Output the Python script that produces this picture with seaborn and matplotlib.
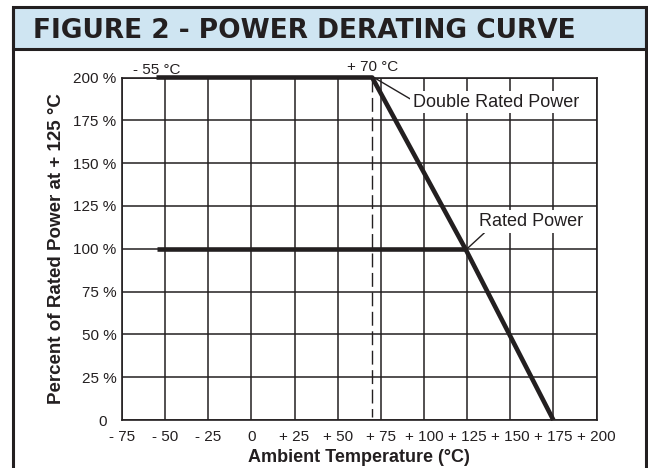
"""Power derating curve (Figure 2)."""
import numpy as np
import pandas as pd
import matplotlib
matplotlib.use('Agg')
import matplotlib.pyplot as plt
from matplotlib.patches import Rectangle
from matplotlib.lines import Line2D
import seaborn as sns

# data
temp_double = [-55, 70, 124, 175]
pct_double = [200, 200, 100, 0]
temp_rated = [-55, 124]
pct_rated = [100, 100]
x_ticks = [-75, -50, -25, 0, 25, 50, 75, 100, 125, 150, 175, 200]
x_labels = ['- 75', '- 50', '- 25', '0', '+ 25', '+ 50', '+ 75', '+ 100',
            '+ 125', '+ 150', '+ 175', '+ 200']
y_ticks = [0, 25, 50, 75, 100, 125, 150, 175, 200]
y_labels = ['0  ', '25 %', '50 %', '75 %', '100 %', '125 %', '150 %',
            '175 %', '200 %']
knee_temp = 70

sns.set_theme(style='white')
plt.rcParams['font.family'] = ['Liberation Sans', 'DejaVu Sans']

INK = '#231f20'
W, H = 648, 468

fig = plt.figure(figsize=(W / 100, H / 100), dpi=100)
ax = fig.add_axes([122 / W, 1 - 420 / H, (596.5 - 122) / W, (420 - 77.5) / H])

# panel frame and title band
fig.add_artist(Rectangle((12.5 / W, 1 - 49 / H), (646 - 12.5) / W, 41.5 / H,
                         transform=fig.transFigure, facecolor='#cfe5f2',
                         edgecolor=INK, lw=2.2))
for xf in (12.5 / W, 646 / W):
    fig.add_artist(Line2D([xf, xf], [0, 1 - 7.5 / H], transform=fig.transFigure,
                          color=INK, lw=2.2))
fig.text(33 / W, 1 - 38 / H, 'FIGURE 2 - POWER DERATING CURVE',
         family='DejaVu Sans', weight='bold', fontsize=19, color=INK,
         ha='left', va='baseline')

# curves
sns.lineplot(x=temp_double, y=pct_double, ax=ax, sort=False, estimator=None,
             color=INK, lw=3.3, solid_capstyle='butt', zorder=4, clip_on=False)
sns.lineplot(x=temp_rated, y=pct_rated, ax=ax, sort=False, estimator=None,
             color=INK, lw=3.3, solid_capstyle='butt', zorder=4, clip_on=False)
ax.plot([knee_temp, knee_temp], [200, 2], color=INK, lw=1.0,
        dashes=(10, 4), zorder=3)

ax.set_xlim(-75, 200)
ax.set_ylim(0, 200)
ax.set_xticks(x_ticks)
ax.set_xticklabels(x_labels)
ax.set_yticks(y_ticks)
ax.set_yticklabels(y_labels)
ax.grid(True, color=INK, lw=1.1)
ax.set_axisbelow(True)
for s in ax.spines.values():
    s.set_color(INK)
    s.set_linewidth(1.2)
ax.tick_params(axis='both', length=0, labelsize=11, colors=INK)
ax.tick_params(axis='x', pad=7)
ax.tick_params(axis='y', pad=4)

ax.set_xlabel('Ambient Temperature (°C)', fontsize=13, weight='bold',
              color=INK, labelpad=4)
ax.set_ylabel('Percent of Rated Power at + 125 °C', fontsize=13.5,
              weight='bold', color=INK, labelpad=6)

# annotations
ax.text(-55, 202, '- 55 °C', fontsize=11, color=INK, ha='center',
        va='baseline')
ax.text(70, 204, '+ 70 °C', fontsize=11, color=INK, ha='center',
        va='baseline')
ax.annotate('Double Rated Power', xy=(71, 200), xytext=(93.5, 183),
            fontsize=13, color=INK, ha='left', va='baseline', zorder=5,
            bbox=dict(boxstyle='square,pad=0.15', fc='white', ec='none'),
            arrowprops=dict(arrowstyle='-', color=INK, lw=1.0,
                            shrinkA=0, shrinkB=0, relpos=(0, 0.6)))
ax.annotate('Rated Power', xy=(125, 100), xytext=(132, 113.3),
            fontsize=13, color=INK, ha='left', va='baseline', zorder=5,
            bbox=dict(boxstyle='square,pad=0.15', fc='white', ec='none'),
            arrowprops=dict(arrowstyle='-', color=INK, lw=1.0,
                            shrinkA=0, shrinkB=0, relpos=(0.08, 0)))

fig.savefig('out.png', dpi=100)
plt.close(fig)
